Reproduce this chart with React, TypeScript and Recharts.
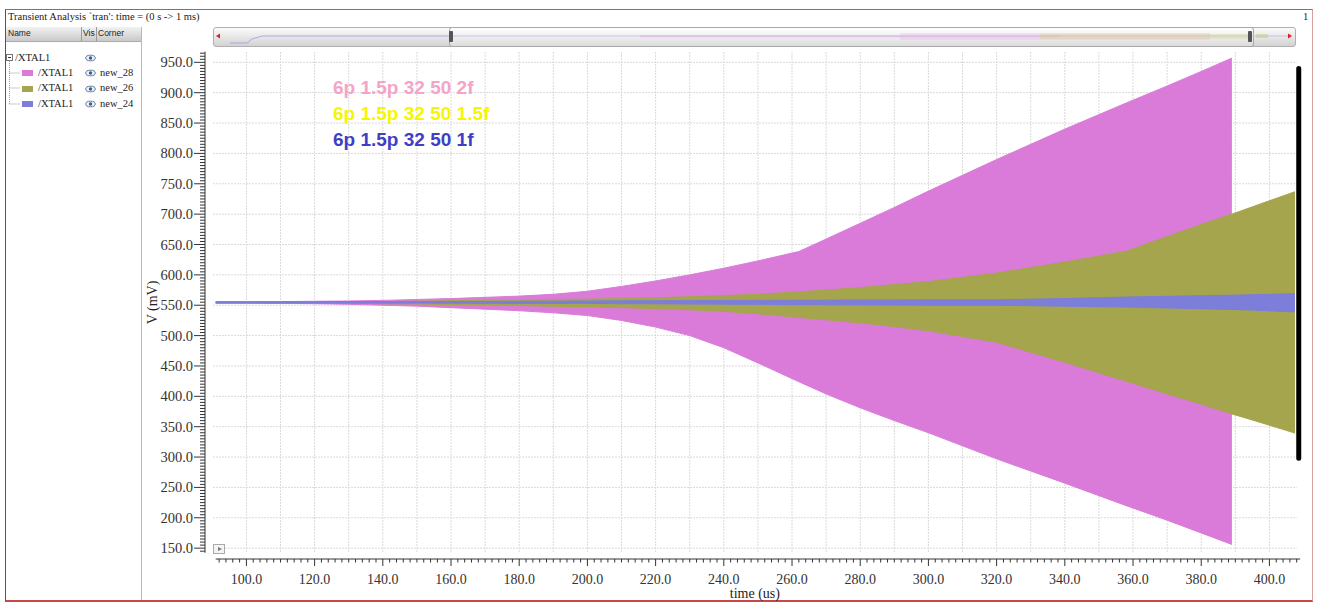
import React from 'react';
import { ComposedChart, Area, XAxis, YAxis, CartesianGrid, ReferenceLine, Label } from 'recharts';

// Sample times (us) at which the oscillation envelopes are tabulated
const timeUs = [91, 100, 110, 120, 130, 140, 150, 160, 170, 180, 190, 200, 210, 220, 230, 240, 250, 262, 270, 280, 290, 300, 320, 340, 358, 370, 380, 389, 395, 407.5];

// new_28 (2f) envelope, mV — run stops at 389 us
const pinkLow = [553.5, 553.5, 553, 552.5, 551.5, 550, 548.5, 546, 543.5, 541, 537.5, 533, 525, 514, 500, 480, 455, 424, 404, 381, 360, 340, 297, 257, 220, 196, 175, 156, null, null];
const pinkHigh = [555.5, 555.5, 556, 556.5, 557, 558, 559.5, 561, 563, 565, 568, 573, 581, 590, 600, 611, 623, 638.5, 659, 685, 711, 738, 790, 840, 883, 911, 935, 957, null, null];

// new_26 (1.5f) envelope, mV
const oliveLow = [553.8, 553.8, 553.7, 553.6, 553.5, 552.5, 552, 551, 550.5, 549.5, 548.5, 547.5, 546, 544.5, 542.5, 540, 536, 530, 526, 521, 515, 508, 489, 456, 425, 404, 387, 371, 361, 339.5];
const oliveHigh = [555, 555, 555.2, 555.4, 555.6, 556, 556.5, 557.5, 558, 558.5, 559.5, 560, 561, 562.5, 564, 566, 568, 572, 575, 579, 584, 589, 603, 621, 639, 663, 683, 700, 712, 737];

// new_24 (1f) envelope, mV
const blueLow = [553.5, 553.5, 553.5, 553.5, 553.5, 553.5, 553.5, 553.3, 553.2, 553, 553, 553, 552.5, 552.3, 552, 551.8, 551.5, 551, 550.7, 550.5, 550.2, 550, 550, 548.5, 547, 545.5, 544.3, 543, 542, 539];
const blueHigh = [555.8, 555.8, 555.8, 555.9, 556, 556, 556, 556.2, 556.3, 556.5, 556.7, 557, 557.2, 557.4, 557.6, 557.8, 558, 558.2, 558.4, 558.6, 558.8, 559, 559, 561, 563.5, 564.7, 565.7, 566.5, 567.3, 569];

// Axis ruler ticks and grid positions
const xRulerTicks = Array.from({ length: 159 }, (_, i) => 92 + i * 2);
const yRulerTicks = Array.from({ length: 165 }, (_, i) => 145 + i * 5);
const xGrid = Array.from({ length: 31 }, (_, i) => 100 + i * 10);
const yGrid = Array.from({ length: 17 }, (_, i) => 150 + i * 50);

const X_DOMAIN: [number, number] = [90.2, 408];
const Y_DOMAIN: [number, number] = [142, 967];

// Tree panel entries
const seriesNames = ['/XTAL1', '/XTAL1', '/XTAL1'];
const seriesCorners = ['new_28', 'new_26', 'new_24'];
const seriesColors = ['#DA7BDA', '#A5A54D', '#7D7DDA'];

// Annotation captions
const captions = ['6p 1.5p 32 50 2f', '6p 1.5p 32 50 1.5f', '6p 1.5p 32 50 1f'];
const captionColors = ['#F5A3C7', '#F6F600', '#3F3FC4'];

const data = timeUs.map((t, i) => ({
  t,
  pink: pinkLow[i] == null ? null : [pinkLow[i], pinkHigh[i]],
  olive: [oliveLow[i], oliveHigh[i]],
  blue: [blueLow[i], blueHigh[i]],
}));

const SERIF = '"Liberation Serif", "DejaVu Serif", serif';
const SANS = '"Liberation Sans", "DejaVu Sans", sans-serif';

const YTick = (props: any) => {
  const { x, y, payload } = props;
  const v = payload.value as number;
  const major = v % 50 === 0;
  const ax = x - 8;
  return (
    <g>
      <line x1={ax} x2={ax} y1={y - 1.6} y2={y + 1.6} stroke="#333" strokeWidth={1} />
      <line x1={major ? ax - 11 : ax - 5} x2={ax} y1={y} y2={y} stroke="#333" strokeWidth={1} />
      {major && (
        <text x={ax - 12} y={y} textAnchor="end" dominantBaseline="central" fontSize={14.5} fontFamily={SERIF} fill="#333">
          {v.toFixed(1)}
        </text>
      )}
    </g>
  );
};

const XTick = (props: any) => {
  const { x, y, payload } = props;
  const v = payload.value as number;
  const major = v % 20 === 0;
  const ay = y + 6;
  return (
    <g>
      <line x1={x - 3.45} x2={x + 3.45} y1={ay} y2={ay} stroke="#333" strokeWidth={1} />
      <line x1={x} x2={x} y1={ay} y2={major ? ay + 7 : ay + 3.5} stroke="#333" strokeWidth={1} />
      {major && (
        <text x={x} y={ay + 20} textAnchor="middle" dominantBaseline="central" fontSize={14} fontFamily={SERIF} fill="#333">
          {v.toFixed(1)}
        </text>
      )}
    </g>
  );
};

const scaleOf = (axis: any, d: [number, number], start: number, size: number, invert: boolean) => (v: number) => {
  if (axis && typeof axis.scale === 'function') return axis.scale(v);
  const f = (v - d[0]) / (d[1] - d[0]);
  return invert ? start + size - f * size : start + f * size;
};

const Eye = ({ x, y }: { x: number; y: number }) => (
  <svg style={{ position: 'absolute', left: x, top: y }} width={11} height={8}>
    <ellipse cx={5.5} cy={4} rx={4.8} ry={2.8} fill="#eef2f8" stroke="#5b7ea6" strokeWidth={1} />
    <circle cx={5.5} cy={4} r={1.7} fill="#3d5f8a" />
  </svg>
);

export default function App() {
  return (
    <div style={{ position: 'absolute', left: 0, top: 0, width: 1323, height: 602, background: '#fff', overflow: 'hidden', fontFamily: SERIF }}>
      {/* window frame */}
      <div style={{ position: 'absolute', left: 5, top: 9, width: 1306, height: 590, borderTop: '1px solid #d05050', borderLeft: '1px solid #555', borderRight: '1px solid #d9a0a0', borderBottom: '2px solid #c84848' }} />
      <div style={{ position: 'absolute', left: 8, top: 11, fontSize: 10.5, color: '#222', whiteSpace: 'nowrap' }}>
        Transient Analysis `tran': time = (0 s -&gt; 1 ms)
      </div>
      <div style={{ position: 'absolute', left: 1303, top: 11, fontSize: 10.5, color: '#222' }}>1</div>

      {/* signal tree panel */}
      <div style={{ position: 'absolute', left: 6, top: 27, width: 135, height: 14, background: 'linear-gradient(#f2f2f2, #c9c9c9)', borderBottom: '1px solid #aaa', fontFamily: SANS, fontSize: 8.5, color: '#222' }}>
        <span style={{ position: 'absolute', left: 2, top: 1 }}>Name</span>
        <div style={{ position: 'absolute', left: 75, top: 0, width: 1, height: 14, background: '#999' }} />
        <span style={{ position: 'absolute', left: 77, top: 1 }}>Vis</span>
        <div style={{ position: 'absolute', left: 90, top: 0, width: 1, height: 14, background: '#999' }} />
        <span style={{ position: 'absolute', left: 92, top: 1 }}>Corner</span>
      </div>
      <div style={{ position: 'absolute', left: 141, top: 27, width: 1, height: 573, background: '#b8b8b8' }} />
      <svg style={{ position: 'absolute', left: 0, top: 50 }} width={40} height={60}>
        <rect x={6.5} y={4.5} width={6} height={6} fill="#fff" stroke="#777" />
        <line x1={8} x2={11} y1={7.5} y2={7.5} stroke="#333" />
        <line x1={9.5} x2={9.5} y1={11} y2={54} stroke="#999" strokeDasharray="1 1" />
        {[23, 38, 54].map((yy) => (
          <line key={yy} x1={9.5} x2={20} y1={yy} y2={yy} stroke="#999" strokeDasharray="1 1" />
        ))}
      </svg>
      <div style={{ position: 'absolute', left: 15, top: 52, fontSize: 10.5, color: '#222' }}>/XTAL1</div>
      <Eye x={85} y={54} />
      {seriesNames.map((n, i) => {
        const cy = 73 + i * 15.5;
        return (
          <React.Fragment key={i}>
            <div style={{ position: 'absolute', left: 22, top: cy - 3, width: 11, height: 6, background: seriesColors[i] }} />
            <div style={{ position: 'absolute', left: 38, top: cy - 6.5, fontSize: 10.5, color: '#222' }}>{n}</div>
            <Eye x={85} y={cy - 4} />
            <div style={{ position: 'absolute', left: 100, top: cy - 6.5, fontSize: 10.5, color: '#222' }}>{seriesCorners[i]}</div>
          </React.Fragment>
        );
      })}

      {/* overview scroller */}
      <div style={{ position: 'absolute', left: 213, top: 27, width: 1081, height: 18, borderRadius: 3, border: '1px solid #b0b0b0', background: 'linear-gradient(#fbfbfb, #d2d2d2)' }} />
      <div style={{ position: 'absolute', left: 449, top: 27, width: 803, height: 18, borderRadius: 3, border: '1px solid #a8a8a8', background: 'linear-gradient(#ffffff, #dcdcdc)' }} />
      <svg style={{ position: 'absolute', left: 0, top: 0 }} width={1323} height={50}>
        <polyline points="230,43 247,43 252,39 262,36 449,36" fill="none" stroke="#a9a9e6" strokeWidth={1} />
        <line x1={449} x2={1290} y1={36} y2={36} stroke="#c4c4ee" strokeWidth={1} />
        <rect x={640} y={35} width={420} height={2.5} fill="#e9a9e9" opacity={0.45} />
        <rect x={900} y={33} width={310} height={7} fill="#e8b0e8" opacity={0.3} />
        <rect x={1040} y={34} width={210} height={5} fill="#d4d48a" opacity={0.4} />
        <rect x={1256} y={34} width={12} height={4} fill="#c9c978" opacity={0.5} />
        <polygon points="216,36 220,33.5 220,38.5" fill="#e02020" />
        <polygon points="1292,36 1288,33.5 1288,38.5" fill="#e02020" />
        <rect x={449} y={31} width={4} height={11} rx={1} fill="#555" />
        <rect x={1248} y={31} width={4} height={11} rx={1} fill="#555" />
      </svg>

      <ComposedChart
        width={1323}
        height={602}
        data={data}
        margin={{ top: 52, right: 26.3, bottom: 1, left: 143 }}
        style={{ position: 'absolute', left: 0, top: 0 }}
      >
        <CartesianGrid
          stroke="#dadada"
          strokeDasharray="2 1"
          verticalCoordinatesGenerator={({ xAxis, offset }: any) =>
            xGrid.map(scaleOf(xAxis, X_DOMAIN, offset.left, offset.width, false))
          }
          horizontalCoordinatesGenerator={({ yAxis, offset }: any) =>
            yGrid.map(scaleOf(yAxis, Y_DOMAIN, offset.top, offset.height, true))
          }
        />
        <XAxis
          dataKey="t"
          type="number"
          domain={X_DOMAIN}
          allowDataOverflow
          ticks={xRulerTicks}
          interval={0}
          tickSize={0}
          tickMargin={0}
          axisLine={false}
          tickLine={false}
          tick={<XTick />}
          height={48}
        >
          <Label value="time (us)" position="insideBottom" offset={3} fontSize={14} fontFamily={SERIF} fill="#222" />
        </XAxis>
        <YAxis
          type="number"
          domain={Y_DOMAIN}
          allowDataOverflow
          ticks={yRulerTicks}
          interval={0}
          tickSize={0}
          tickMargin={0}
          axisLine={false}
          tickLine={false}
          tick={<YTick />}
          width={70}
        >
          <Label value="V (mV)" angle={-90} position="center" dx={-26} fontSize={14} fontFamily={SERIF} fill="#222" />
        </YAxis>
        <Area dataKey="pink" type="linear" stroke="#DA7BDA" strokeWidth={1} fill="#DA7BDA" fillOpacity={1} dot={false} activeDot={false} isAnimationActive={false} />
        <Area dataKey="olive" type="linear" stroke="#A5A54D" strokeWidth={1} fill="#A5A54D" fillOpacity={1} dot={false} activeDot={false} isAnimationActive={false} />
        <Area dataKey="blue" type="linear" stroke="#7D7DDA" strokeWidth={1} fill="#7D7DDA" fillOpacity={1} dot={false} activeDot={false} isAnimationActive={false} />
        <ReferenceLine
          segment={[{ x: 408.6, y: 940 }, { x: 408.6, y: 298 }]}
          ifOverflow="visible"
          stroke="#000"
          strokeWidth={5}
          strokeLinecap="round"
        />
      </ComposedChart>

      {/* plot corner button */}
      <div style={{ position: 'absolute', left: 213, top: 544, width: 10, height: 8, border: '1px solid #aaa', background: '#f4f4f4' }}>
        <div style={{ position: 'absolute', left: 3.5, top: 1.5, width: 0, height: 0, borderTop: '2.5px solid transparent', borderBottom: '2.5px solid transparent', borderLeft: '4px solid #777' }} />
      </div>

      {/* run captions */}
      {captions.map((c, i) => (
        <div key={i} style={{ position: 'absolute', left: 333, top: 78 + i * 26, fontFamily: SANS, fontWeight: 700, fontSize: 19, lineHeight: '20px', color: captionColors[i], whiteSpace: 'nowrap' }}>
          {c}
        </div>
      ))}
    </div>
  );
}
